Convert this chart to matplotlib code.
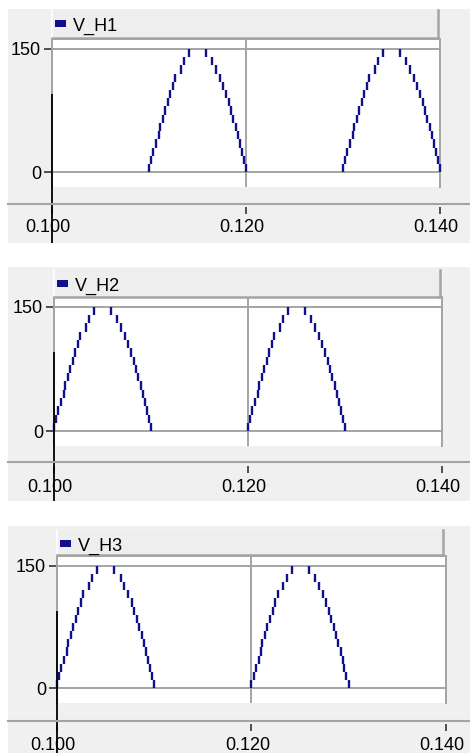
import matplotlib
matplotlib.use('Agg')
import matplotlib.pyplot as plt
import matplotlib.transforms as mtransforms
from matplotlib.patches import Rectangle
from matplotlib.lines import Line2D

plt.rcParams['font.family'] = ['Liberation Sans', 'DejaVu Sans']

# ---- data ----
names = ['V_H1', 'V_H2', 'V_H3']
pulse_starts = [[0.110, 0.130], [0.100, 0.120], [0.100, 0.120]]
# one half-wave pulse, drawn as vertical steps: time offset (ms) and level span
step_ms = [0, 0.21, 0.42, 0.74, 0.99, 1.13, 1.41, 1.63, 1.94, 2.19, 2.44, 2.72, 3.25, 3.60, 4.13,
           5.87, 6.54, 6.89, 7.31, 7.67, 7.92, 8.20, 8.48, 8.69, 8.94, 9.19, 9.40, 9.54, 9.75, 10.0]
step_lo = [0, 10, 20, 30, 40, 50, 60, 70, 80, 90, 100, 110, 120, 130, 140,
           140, 130, 120, 110, 100, 90, 80, 70, 60, 50, 40, 30, 20, 10, 0]
step_hi = [10, 20, 30, 40, 50, 60, 70, 80, 90, 100, 110, 120, 130, 140, 150,
           150, 140, 130, 120, 110, 100, 90, 80, 70, 60, 50, 40, 30, 20, 10]
cursor_x = 0.100
cursor_top = 95
xticks = [0.100, 0.120, 0.140]
xlabels = ['0.100', '0.120', '0.140']
yticks = [0, 150]
ylabels = ['0', '150']

# ---- layout in pixels ----
W, H = 470, 753
panels = [
    dict(bg=(9, 243), head=(10, 38, 52, 438), plot=(52, 440, 39, 187), sep=204, tick=207),
    dict(bg=(267, 501), head=(270, 297, 54, 440), plot=(54, 442, 297, 446), sep=462, tick=466),
    dict(bg=(526, 753), head=(530, 555, 57, 443), plot=(57, 446, 556, 703), sep=721, tick=724),
]
ylim = (-18, 162)
navy = '#10108a'
grey = '#a4a4a4'
bgc = '#f0f0f0'
fs = 13

fig = plt.figure(figsize=(W / 100, H / 100), dpi=100)
fig.patch.set_facecolor('white')
shift_left = mtransforms.ScaledTranslation(-4 / 100, 0, fig.dpi_scale_trans)


def fx(x):
    return x / W


def fy(y):
    return 1 - y / H


for name, starts, p in zip(names, pulse_starts, panels):
    b0, b1 = p['bg']
    fig.add_artist(Rectangle((fx(8), fy(b1)), fx(W) - fx(8), fy(b0) - fy(b1),
                             transform=fig.transFigure, fc=bgc, ec='none', zorder=0))
    # legend header
    h0, h1, hx0, hx1 = p['head']
    fig.add_artist(Rectangle((fx(hx0), fy(h1)), fx(hx1) - fx(hx0), fy(h0) - fy(h1),
                             transform=fig.transFigure, fc='#eeeeee', ec='none', zorder=1))
    fig.add_artist(Line2D([fx(hx0), fx(hx0)], [fy(h0), fy(h1)], color='white', lw=1.2, zorder=2))
    fig.add_artist(Line2D([fx(hx0), fx(hx1)], [fy(h1), fy(h1)], color=grey, lw=1.8, zorder=2))
    fig.add_artist(Line2D([fx(hx1), fx(hx1)], [fy(h0), fy(h1)], color=grey, lw=1.8, zorder=2))
    fig.add_artist(Rectangle((fx(hx0 + 3), fy(h0 + 17)), fx(11), fy(0) - fy(7),
                             transform=fig.transFigure, fc=navy, ec='none', zorder=3))
    fig.text(fx(hx0 + 21), fy(h0 + 16), name, fontsize=fs, va='center', ha='left', zorder=3)

    # plot area
    x0, x1, y0, y1 = p['plot']
    ax = fig.add_axes([fx(x0), fy(y1), fx(x1) - fx(x0), fy(y0) - fy(y1)])
    ax.set_facecolor('white')
    ax.set_xlim(xticks[0], xticks[-1])
    ax.set_ylim(*ylim)
    for s in ['left', 'top', 'right']:
        ax.spines[s].set_color(grey)
        ax.spines[s].set_linewidth(1.4)
    ax.spines['bottom'].set_visible(False)
    ax.set_xticks(xticks)
    ax.set_yticks(yticks)
    ax.set_yticklabels(ylabels)
    ax.tick_params(axis='x', length=0, labelbottom=False)
    ax.tick_params(axis='y', length=6, width=1.2, color='#333333', labelsize=fs, pad=2)
    ax.grid(True, color=grey, lw=1.4)
    ax.set_axisbelow(True)

    for t0 in starts:
        ts = [t0 + m / 1000 for m in step_ms]
        ax.vlines(ts, step_lo, step_hi, color=navy, lw=1.7, zorder=5, clip_on=False)

    # cursor line reaching down to the bottom of the panel background
    per_px = (ylim[1] - ylim[0]) / (y1 - y0)
    ybot = ylim[0] - (b1 - y1) * per_px
    ax.vlines(cursor_x, ybot, cursor_top, color='black', lw=1.3, zorder=10, clip_on=False)

    # separator and x axis ticks placed below the plot area
    fig.add_artist(Line2D([fx(8), 1], [fy(p['sep'])] * 2, color=grey, lw=1.5, zorder=1))
    sec = ax.secondary_xaxis(-(p['tick'] - y1) / (y1 - y0))
    sec.set_xticks(xticks)
    sec.set_xticklabels(xlabels)
    sec.spines['bottom'].set_visible(False)
    sec.tick_params(length=5, width=1.2, color='#333333', labelsize=fs, pad=4)
    for lab in sec.get_xticklabels():
        lab.set_transform(lab.get_transform() + shift_left)

fig.savefig('out.png', dpi=100)
